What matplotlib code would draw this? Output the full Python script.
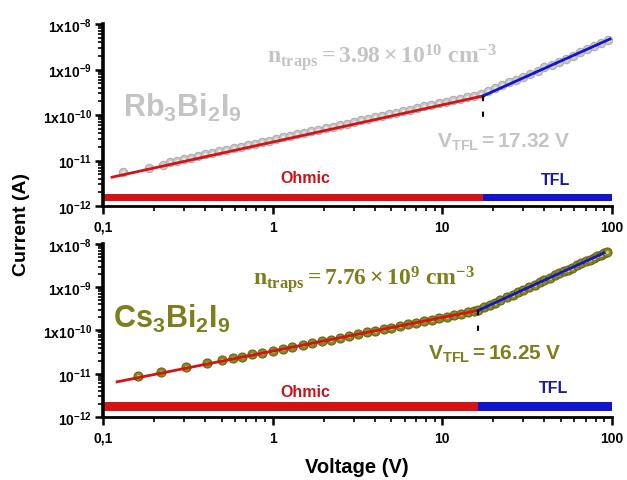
import matplotlib
matplotlib.use('Agg')
import matplotlib.pyplot as plt

# fonts: Arial-like bold sans, Times-like bold serif for n_traps
plt.rcParams['font.family'] = 'Liberation Sans'
plt.rcParams['font.weight'] = 'bold'
plt.rcParams['mathtext.fontset'] = 'custom'
plt.rcParams['mathtext.rm'] = 'Liberation Serif:bold'
plt.rcParams['mathtext.bf'] = 'Liberation Serif:bold'
plt.rcParams['mathtext.sf'] = 'Liberation Sans:bold'
plt.rcParams['mathtext.it'] = 'Liberation Serif:bold:italic'

# Rb3Bi2I9 measured points (V, A)
rb_v = [0.131, 0.186, 0.225, 0.248, 0.273, 0.30, 0.33, 0.364, 0.40, 0.44, 0.485, 0.534,
        0.588, 0.647, 0.712, 0.784, 0.863, 0.95, 1.05, 1.15, 1.27, 1.4, 1.54, 1.69, 1.86,
        2.05, 2.26, 2.48, 2.73, 3.0, 3.3, 3.64, 4.0, 4.4, 4.85, 5.34, 5.88, 6.47, 7.12,
        7.84, 8.63, 9.5, 10.45, 11.5, 12.7, 13.9, 15.3, 16.9, 18.6, 20.5, 22.5, 24.8,
        27.3, 30, 33, 36.4, 40, 44, 48.5, 53.4, 58.8, 64.7, 71.2, 78.4, 86.3, 95]
rb_i = [5.7e-12, 7.0e-12, 8.0e-12, 9.2e-12, 9.9e-12, 1.07e-11, 1.16e-11, 1.25e-11, 1.36e-11,
        1.46e-11, 1.58e-11, 1.72e-11, 1.85e-11, 2.0e-11, 2.17e-11, 2.35e-11, 2.54e-11,
        2.75e-11, 2.98e-11, 3.22e-11, 3.49e-11, 3.77e-11, 4.08e-11, 4.4e-11, 4.76e-11,
        5.16e-11, 5.58e-11, 6.0e-11, 6.5e-11, 7.0e-11, 7.6e-11, 8.2e-11, 8.9e-11, 9.6e-11,
        1.04e-10, 1.13e-10, 1.22e-10, 1.32e-10, 1.42e-10, 1.54e-10, 1.67e-10, 1.8e-10,
        1.95e-10, 2.11e-10, 2.29e-10, 2.46e-10, 2.66e-10, 2.89e-10, 3.3e-10, 3.9e-10,
        4.46e-10, 5.25e-10, 6.0e-10, 7.0e-10, 8.1e-10, 9.5e-10, 1.11e-9, 1.27e-9, 1.5e-9,
        1.72e-9, 2.02e-9, 2.37e-9, 2.77e-9, 3.26e-9, 3.83e-9, 4.5e-9]

# Cs3Bi2I9 measured points (V, A)
cs_v = [0.16, 0.22, 0.31, 0.41, 0.50, 0.58, 0.66, 0.76, 0.87, 1.0, 1.15, 1.3, 1.5, 1.7,
        1.95, 2.2, 2.5, 2.8, 3.2, 3.6, 4.0, 4.5, 5.0, 5.6, 6.3, 7.0, 7.8, 8.7, 9.6, 10.6,
        11.7, 12.9, 14.2, 15.4, 16.3, 17.5, 19, 20.5, 22, 24, 26, 28, 30, 32.5, 35, 37.5,
        40, 43, 46, 49, 52, 55, 58, 62, 66, 70, 74, 78, 82, 86, 90, 93]
cs_i = [8.8e-12, 1.07e-11, 1.45e-11, 1.8e-11, 2.1e-11, 2.3e-11, 2.5e-11, 2.8e-11, 3.05e-11,
        3.4e-11, 3.72e-11, 4.09e-11, 4.57e-11, 5.03e-11, 5.6e-11, 6.15e-11, 6.8e-11, 7.4e-11,
        8.2e-11, 9.0e-11, 9.8e-11, 1.07e-10, 1.16e-10, 1.27e-10, 1.39e-10, 1.51e-10,
        1.64e-10, 1.79e-10, 1.93e-10, 2.08e-10, 2.25e-10, 2.43e-10, 2.61e-10, 2.78e-10,
        2.9e-10, 3.4e-10, 3.84e-10, 4.4e-10, 4.98e-10, 5.8e-10, 6.7e-10, 7.65e-10, 8.7e-10,
        1.0e-9, 1.14e-9, 1.29e-9, 1.45e-9, 1.65e-9, 1.87e-9, 2.08e-9, 2.32e-9, 2.56e-9,
        2.82e-9, 3.18e-9, 3.56e-9, 3.95e-9, 4.36e-9, 4.8e-9, 5.25e-9, 5.7e-9, 6.2e-9, 6.55e-9]

# fitted segments (end points)
rb_ohm_v = [0.113, 17.32]
rb_ohm_i = [4.3e-12, 2.62e-10]
rb_tfl_v = [17.32, 97.3]
rb_tfl_i = [2.62e-10, 4.68e-9]
cs_ohm_v = [0.121, 16.25]
cs_ohm_i = [6.5e-12, 2.9e-10]
cs_tfl_v = [16.25, 89.8]
cs_tfl_i = [2.9e-10, 6.2e-9]

rb_vtfl = 17.32
cs_vtfl = 16.25

x_ticks = [0.1, 1, 10, 100]
x_labels = ['0,1', '1', '10', '100']
y_ticks = [1e-12, 1e-11, 1e-10, 1e-9, 1e-8]
y_labels = [r'$\mathsf{10^{-12}}$', r'$\mathsf{10^{-11}}$', r'$\mathsf{1x10^{-10}}$',
            r'$\mathsf{1x10^{-9}}$', r'$\mathsf{1x10^{-8}}$']

RED = '#d41414'
BLUE = '#1414c8'
GRAY = '#c4c4c4'
OLIVE = '#7e7e1c'

fig = plt.figure(figsize=(6.27, 4.81), dpi=100)
ax1 = fig.add_axes([0.1643, 0.5696, 0.8118, 0.3784])
ax2 = fig.add_axes([0.1643, 0.131, 0.8118, 0.3597])


def setup(ax, bar_lo, bar_hi, vtfl):
    ax.set_xscale('log')
    ax.set_yscale('log')
    ax.set_xlim(0.1, 100)
    ax.set_ylim(1e-12, 1e-8)
    ax.spines['top'].set_visible(False)
    ax.spines['right'].set_visible(False)
    ax.spines['left'].set_linewidth(2.6)
    ax.spines['bottom'].set_linewidth(2.0)
    ax.set_xticks(x_ticks)
    ax.set_xticklabels(x_labels)
    ax.set_yticks(y_ticks)
    ax.set_yticklabels(y_labels)
    ax.tick_params(which='major', direction='out', length=6, width=1.8, labelsize=10, pad=2)
    ax.tick_params(which='minor', direction='out', length=3.5, width=1.2)
    ax.tick_params(axis='x', which='major', pad=4)
    # Ohmic / TFL bars
    ax.fill_between([0.102, vtfl], bar_lo, bar_hi, color=RED, lw=0, zorder=2)
    ax.fill_between([vtfl, 100], bar_lo, bar_hi, color=BLUE, lw=0, zorder=2)


setup(ax1, 1.26e-12, 1.88e-12, rb_vtfl)
setup(ax2, 1.4e-12, 2.27e-12, cs_vtfl)

# top panel: Rb3Bi2I9
ax1.plot(rb_v, rb_i, 'o', ms=6, mfc='#cacaca', mec='#adadad', mew=0.8, zorder=3)
ax1.plot(rb_v, rb_i, 'o', ms=2.2, color='#eeeeee', mew=0, zorder=3)
ax1.plot(rb_ohm_v, rb_ohm_i, color=RED, lw=2, zorder=4)
ax1.plot(rb_tfl_v, rb_tfl_i, color=BLUE, lw=2, zorder=4)
ax1.plot([rb_vtfl, rb_vtfl], [rb_ohm_i[1], 6.3e-11], color='black', lw=1.5,
         linestyle=(0, (2.5, 5)), zorder=4)

ax1.text(0.039, 0.495, r'$\mathsf{Rb_3Bi_2I_9}$', color=GRAY, fontsize=22,
         transform=ax1.transAxes, va='baseline')
ax1.text(0.322, 0.791, r'$\mathrm{n_{traps} = 3.98 \times 10^{10}\ cm^{-3}}$', color=GRAY,
         fontsize=17, transform=ax1.transAxes, va='baseline')
ax1.text(0.656, 0.324, r'$\mathsf{V_{TFL} = 17.32\ V}$', color=GRAY, fontsize=15,
         transform=ax1.transAxes, va='baseline')
ax1.text(0.397, 0.132, 'Ohmic', color='#c81418', fontsize=11.5, ha='center',
         transform=ax1.transAxes, va='baseline')
ax1.text(0.888, 0.121, 'TFL', color='#1a1a9c', fontsize=11.5, ha='center',
         transform=ax1.transAxes, va='baseline')

# bottom panel: Cs3Bi2I9
ax2.plot(cs_v, cs_i, 'o', ms=6.5, mfc='#8a8a26', mec='#66660e', mew=0.8, zorder=3)
ax2.plot(cs_v, cs_i, 'o', ms=2.2, color='#d6d68a', mew=0, zorder=3)
ax2.plot(cs_ohm_v, cs_ohm_i, color=RED, lw=2, zorder=4)
ax2.plot(cs_tfl_v, cs_tfl_i, color=BLUE, lw=2, zorder=4)
ax2.plot([cs_vtfl, cs_vtfl], [cs_ohm_i[1], 5.8e-11], color='black', lw=1.5,
         linestyle=(0, (2.5, 5)), zorder=4)

ax2.text(0.020, 0.520, r'$\mathsf{Cs_3Bi_2I_9}$', color=OLIVE, fontsize=22,
         transform=ax2.transAxes, va='baseline')
ax2.text(0.295, 0.769, r'$\mathrm{n_{traps} = 7.76 \times 10^{9}\ cm^{-3}}$', color=OLIVE,
         fontsize=17, transform=ax2.transAxes, va='baseline')
ax2.text(0.639, 0.335, r'$\mathsf{V_{TFL} = 16.25\ V}$', color=OLIVE, fontsize=15,
         transform=ax2.transAxes, va='baseline')
ax2.text(0.397, 0.121, 'Ohmic', color='#c81418', fontsize=11.5, ha='center',
         transform=ax2.transAxes, va='baseline')
ax2.text(0.886, 0.145, 'TFL', color='#1a1a9c', fontsize=11.5, ha='center',
         transform=ax2.transAxes, va='baseline')

# shared axis titles
fig.text(22 / 627, 1 - 225 / 481, 'Current (A)', rotation=90, ha='center', va='center',
         fontsize=14)
fig.text(357 / 627, 1 - 468 / 481, 'Voltage (V)', ha='center', va='center', fontsize=14.5)

fig.savefig('out.png', dpi=100)
